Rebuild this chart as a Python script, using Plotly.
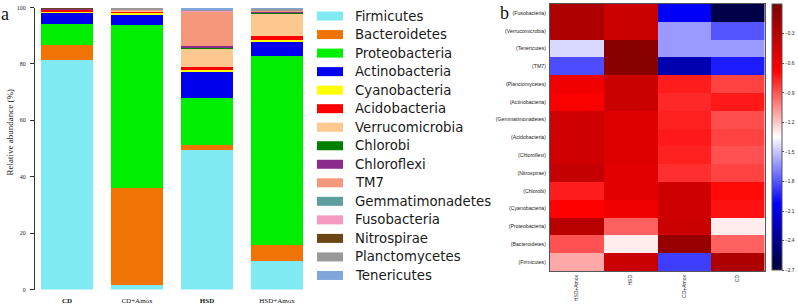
import plotly.graph_objects as go

W, H = 798, 306

# ---------------- data ----------------
groups = ["CD", "CD+Amox", "HSD", "HSD+Amox"]
group_ticktext = ["<b>CD</b>", "CD+Amox", "<b>HSD</b>", "HSD+Amox"]

phyla = ["Firmicutes", "Bacteroidetes", "Proteobacteria", "Actinobacteria",
         "Cyanobacteria", "Acidobacteria", "Verrucomicrobia", "Chlorobi",
         "Chloroflexi", "TM7", "Gemmatimonadetes", "Fusobacteria",
         "Nitrospirae", "Planctomycetes", "Tenericutes"]

phylum_colors = ["#7feaf2", "#f07306", "#00ee00", "#0000ee", "#ffff00",
                 "#ff0000", "#fcc88f", "#008000", "#8b2c8b", "#f5977a",
                 "#5f9e9e", "#f49ac1", "#6b4513", "#999999", "#7fa7dc"]

# relative abundance (%) per phylum, order: CD, CD+Amox, HSD, HSD+Amox
firmicutes       = [81.7, 1.7, 49.5, 10.1]
bacteroidetes    = [5.1, 34.5, 2.0, 5.8]
proteobacteria   = [7.6, 57.8, 16.5, 67.2]
actinobacteria   = [4.0, 3.5, 9.6, 5.0]
cyanobacteria    = [0.4, 0.9, 0.5, 0.6]
acidobacteria    = [0.5, 0.5, 0.9, 1.4]
verrucomicrobia  = [0.2, 0.2, 6.8, 8.1]
chlorobi         = [0.05, 0.05, 0.1, 0.05]
chloroflexi      = [0.1, 0.1, 0.6, 0.4]
tm7              = [0.2, 0.1, 12.3, 0.3]
gemmatimonadetes = [0.05, 0.05, 0.1, 0.1]
fusobacteria     = [0.05, 0.05, 0.1, 0.1]
nitrospirae      = [0.05, 0.05, 0.1, 0.05]
planctomycetes   = [0.35, 0.5, 0.4, 0.5]
tenericutes      = [0.05, 0.05, 0.4, 0.3]

abundance = [firmicutes, bacteroidetes, proteobacteria, actinobacteria,
             cyanobacteria, acidobacteria, verrucomicrobia, chlorobi,
             chloroflexi, tm7, gemmatimonadetes, fusobacteria, nitrospirae,
             planctomycetes, tenericutes]

# heatmap (panel b)
heat_cols = ["HSD+Amox", "HSD", "CD+Amox", "CD"]
heat_rows = ["(Fusobacteria)", "(Verrucomicrobia)", "(Tenericutes)", "(TM7)",
             "(Planctomycetes)", "(Actinobacteria)", "(Gemmatimonadetes)",
             "(Acidobacteria)", "(Chloroflexi)", "(Nitrospirae)", "(Chlorobi)",
             "(Cyanobacteria)", "(Proteobacteria)", "(Bacteroidetes)",
             "(Firmicutes)"]
heat_values = [
    [-0.25, -0.40, -2.05, -2.65],
    [-0.25, -0.40, -1.62, -1.80],
    [-1.45, -0.05, -1.62, -1.62],
    [-1.82, -0.05, -2.30, -1.95],
    [-0.60, -0.40, -0.75, -0.85],
    [-0.65, -0.40, -0.78, -0.74],
    [-0.42, -0.50, -0.76, -0.88],
    [-0.42, -0.50, -0.74, -0.85],
    [-0.42, -0.50, -0.76, -0.89],
    [-0.36, -0.52, -0.80, -0.85],
    [-0.75, -0.52, -0.42, -0.70],
    [-0.67, -0.60, -0.42, -0.72],
    [-0.30, -0.93, -0.40, -1.30],
    [-0.89, -1.30, -0.12, -0.93],
    [-1.12, -0.40, -1.86, -0.25],
]
z_min, z_max = -2.7, 0.0
cbar_ticks = [-0.3, -0.6, -0.9, -1.2, -1.5, -1.8, -2.1, -2.4, -2.7]
y_ticks = [0, 20, 40, 60, 80, 100]


def px(x):
    return x / W


def py(y):
    return 1 - y / H


fig = go.Figure()

# ---------------- panel a: stacked bars ----------------
for name, vals, col in zip(phyla, abundance, phylum_colors):
    fig.add_trace(go.Bar(
        x=list(range(len(groups))), y=vals, name=name,
        marker=dict(color=col, line=dict(width=0)),
        width=0.743, showlegend=False, xaxis="x", yaxis="y"))

# ---------------- panel b: heatmap ----------------
cb_top, cb_bot = 1.0, 272.7
colorscale = [[0.0, "#00003a"], [0.25, "#0000ff"], [0.5, "#ffffff"],
              [0.75, "#ff0000"], [1.0, "#800000"]]
fig.add_trace(go.Heatmap(
    z=heat_values, x=list(range(len(heat_cols))), y=list(range(len(heat_rows))),
    zmin=z_min, zmax=z_max, colorscale=colorscale, xaxis="x2", yaxis="y2",
    colorbar=dict(
        x=px(771.7), xanchor="left", xpad=0,
        y=py((cb_top + cb_bot) / 2), yanchor="middle", ypad=0,
        len=(cb_bot - cb_top) / H, lenmode="fraction",
        thickness=10, thicknessmode="pixels",
        outlinewidth=1, outlinecolor="#555555",
        tickvals=cbar_ticks, ticktext=[f"\u2212{abs(v):.1f}" for v in cbar_ticks],
        ticks="outside", ticklen=2, tickcolor="#555555",
        tickfont=dict(size=4.8, family="Liberation Sans", color="#222222")),
))

layout_shapes = []
layout_annots = []

# manual legend for panel a
for i, (name, col) in enumerate(zip(phyla, phylum_colors)):
    yc = 13.3 + 18.9 * i
    layout_shapes.append(dict(type="rect", xref="paper", yref="paper",
                              x0=px(317), x1=px(343), y0=py(yc + 4.6), y1=py(yc - 4.6),
                              fillcolor=col, line=dict(width=0)))
    layout_annots.append(dict(xref="paper", yref="paper", x=px(353), y=py(yc),
                              text=name, showarrow=False, xanchor="left", yanchor="middle",
                              font=dict(family="DejaVu Sans", size=13.3, color="#1a1a1a")))

# panel labels and y title
layout_annots += [
    dict(xref="paper", yref="paper", x=px(5), y=py(11), text="a", showarrow=False,
         xanchor="center", yanchor="middle",
         font=dict(family="Liberation Serif", size=18, color="#111111")),
    dict(xref="paper", yref="paper", x=px(504), y=py(10), text="b", showarrow=False,
         xanchor="center", yanchor="middle",
         font=dict(family="Liberation Serif", size=18, color="#111111")),
    dict(xref="paper", yref="paper", x=px(10), y=py(132), text="Relative abundance (%)",
         showarrow=False, textangle=-90, xanchor="center", yanchor="middle",
         font=dict(family="Liberation Serif", size=9, color="#222222")),
]

fig.update_layout(
    width=W, height=H,
    margin=dict(l=0, r=0, t=0, b=0),
    paper_bgcolor="white", plot_bgcolor="white",
    barmode="stack", bargap=0,
    showlegend=False,
    xaxis=dict(domain=[px(35), px(320)], range=[-0.457, 3.614],
               tickvals=list(range(len(groups))), ticktext=group_ticktext,
               showline=False, showgrid=False, zeroline=False, ticks="", ticklen=0,
               ticklabelstandoff=5,
               tickfont=dict(family="Liberation Serif", size=7, color="#111111")),
    yaxis=dict(domain=[py(292.3), py(4.7)], range=[0, 100],
               tickvals=y_ticks, showline=True, linecolor="#333333", linewidth=1,
               ticks="outside", ticklen=4, tickcolor="#333333",
               ticklabelstandoff=3,
               showgrid=False, zeroline=False,
               tickfont=dict(family="Liberation Serif", size=6, color="#222222")),
    xaxis2=dict(domain=[px(550), px(764.5)], range=[-0.5, 3.5], anchor="y2",
                tickvals=list(range(len(heat_cols))), ticktext=heat_cols,
                tickangle=-90, ticks="", ticklen=0, showgrid=False, zeroline=False,
                showline=True, mirror=True, linecolor="#555555", linewidth=1,
                ticklabelstandoff=1,
                tickfont=dict(family="Liberation Sans", size=5, color="#222222")),
    yaxis2=dict(domain=[py(273.3), py(1)], range=[14.5, -0.5], anchor="x2",
                tickvals=list(range(len(heat_rows))), ticktext=heat_rows,
                ticks="", ticklen=0, showgrid=False, zeroline=False,
                showline=True, mirror=True, linecolor="#555555", linewidth=1,
                ticklabelstandoff=2,
                tickfont=dict(family="Liberation Sans", size=5.2, color="#222222")),
    shapes=layout_shapes,
    annotations=layout_annots,
)

fig.write_html("out.html",
               config={"displayModeBar": False},
               post_script="document.body.style.margin='0px';document.body.style.overflow='hidden';")
